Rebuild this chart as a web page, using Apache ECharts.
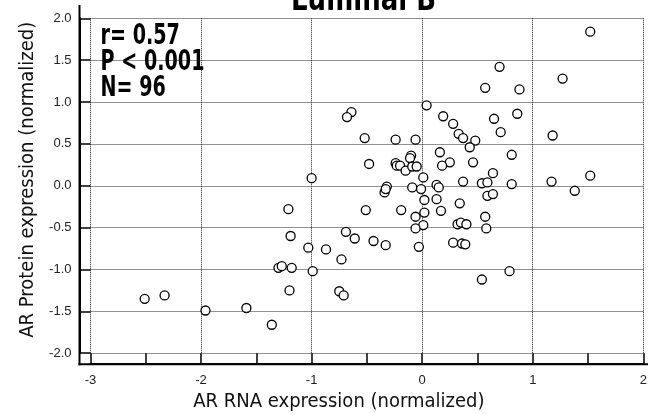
<!DOCTYPE html>
<html>
<head>
<meta charset="utf-8">
<script src="https://cdn.jsdelivr.net/npm/echarts@6/dist/echarts.min.js"></script>
<style>
html,body{margin:0;padding:0;background:#fff;}
#chart{width:648px;height:414px;}
</style>
</head>
<body>
<div id="chart"></div>
<script>
// AR RNA expression (x) and AR protein expression (y)
var rnaExpr = [
  -2.51,-2.33,-1.96,-1.59,-1.36,-1.30,-1.27,-1.18,-1.20,-1.21,
  -1.19,-1.00,-1.03,-0.99,-0.87,-0.73,-0.75,-0.71,-0.69,-0.61,
  -0.44,-0.33,-0.51,-0.48,-0.52,-0.64,-0.68,-0.24,-0.06,0.04,
  -0.10,-0.11,-0.24,-0.23,-0.20,-0.15,-0.09,-0.05,0.01,-0.32,
  -0.34,-0.33,-0.09,-0.01,-0.19,0.02,0.02,-0.06,0.01,-0.06,
  -0.03,0.13,0.15,0.13,0.17,0.34,0.32,0.35,0.40,0.28,
  0.36,0.39,0.59,0.64,0.57,0.58,0.79,0.54,0.37,0.54,
  0.59,0.81,1.17,1.38,1.52,1.52,0.70,1.27,0.57,0.88,
  0.86,0.65,0.71,1.18,0.19,0.28,0.33,0.37,0.48,0.43,
  0.16,0.81,0.25,0.18,0.46,0.64
];
var proteinExpr = [
  -1.35,-1.31,-1.49,-1.46,-1.66,-0.98,-0.96,-0.98,-1.25,-0.28,
  -0.60,0.09,-0.74,-1.02,-0.76,-0.88,-1.26,-1.31,-0.55,-0.63,
  -0.66,-0.71,-0.29,0.26,0.57,0.88,0.82,0.55,0.55,0.96,
  0.36,0.33,0.27,0.24,0.24,0.18,0.23,0.23,0.10,-0.01,
  -0.08,-0.04,-0.02,-0.04,-0.29,-0.17,-0.32,-0.37,-0.47,-0.51,
  -0.73,0.01,-0.02,-0.16,-0.30,-0.21,-0.46,-0.44,-0.46,-0.68,
  -0.69,-0.70,-0.12,-0.10,-0.37,-0.51,-1.02,-1.12,0.05,0.03,
  0.04,0.02,0.05,-0.06,0.12,1.84,1.42,1.28,1.17,1.15,
  0.86,0.80,0.64,0.60,0.83,0.74,0.62,0.57,0.54,0.46,
  0.40,0.37,0.28,0.24,0.28,0.15
];
var titleText = 'Luminal B';
var statsLines = ['r= 0.57', 'P < 0.001', 'N= 96'];
var xAxisName = 'AR RNA expression (normalized)';
var yAxisName = 'AR Protein expression (normalized)';

var narrow = '"DejaVu Sans Condensed", "Liberation Sans Narrow", "Liberation Sans", sans-serif';
var points = rnaExpr.map(function (v, i) { return [v, proteinExpr[i]]; });

var chart = echarts.init(document.getElementById('chart'), null, {renderer: 'canvas'});

var gridLeft = 90.5, gridTop = 18.3, gridRight = 4.7, gridBottom = 60.8;

var graphics = [
  {type: 'line', shape: {x1: 79.5, y1: 5, x2: 79.5, y2: 365.2}, style: {stroke: '#000', lineWidth: 2}, z: 10},
  {type: 'line', shape: {x1: 78.5, y1: 364.2, x2: 648, y2: 364.2}, style: {stroke: '#000', lineWidth: 2}, z: 10},
  {type: 'text', x: 363.5, y: 18, z: 10, scaleX: 0.85,
    style: {text: titleText, font: 'bold 34px ' + narrow, fill: '#000',
      align: 'center', verticalAlign: 'bottom', textAlign: 'center', textVerticalAlign: 'bottom'}}
];
var lineYs = [37, 62.5, 89];
statsLines.forEach(function (t, i) {
  graphics.push({type: 'text', x: 100.5, y: lineYs[i], z: 10, scaleX: 0.76,
    style: {text: t, font: 'bold 28px ' + narrow, fill: '#000',
      align: 'left', verticalAlign: 'middle', textAlign: 'left', textVerticalAlign: 'middle'}});
});

chart.setOption({
  animation: false,
  backgroundColor: '#fff',
  grid: {left: gridLeft, top: gridTop, right: gridRight, bottom: gridBottom,
    containLabel: false, outerBoundsMode: 'none'},
  xAxis: {
    type: 'value', min: -3, max: 2, interval: 1, offset: 11,
    name: xAxisName, nameLocation: 'middle', nameGap: 27,
    nameTextStyle: {fontFamily: narrow, fontSize: 20, color: '#111', padding: [0, 56, 0, 0]},
    axisLine: {show: true, onZero: false, lineStyle: {color: '#000', width: 2}},
    axisTick: {show: true, inside: true, length: 11, lineStyle: {color: '#000', width: 1.5}},
    minorTick: {show: true, splitNumber: 2, length: 11, lineStyle: {color: '#000', width: 1.5}},
    minorSplitLine: {show: false},
    axisLabel: {color: '#222', fontFamily: 'Liberation Sans, Arial, sans-serif', fontSize: 13, margin: 10},
    splitLine: {show: true, lineStyle: {color: '#222', width: 1, type: [1, 1]}}
  },
  yAxis: {
    type: 'value', min: -2, max: 2, interval: 0.5, offset: 11,
    name: yAxisName, nameLocation: 'middle', nameGap: 38,
    nameTextStyle: {fontFamily: narrow, fontSize: 20, color: '#111', padding: [0, 0, 0, 12]},
    axisLine: {show: true, onZero: false, lineStyle: {color: '#000', width: 2}},
    axisTick: {show: true, inside: true, length: 11, lineStyle: {color: '#000', width: 1.5}},
    axisLabel: {color: '#222', fontFamily: 'Liberation Sans, Arial, sans-serif', fontSize: 13, margin: 8,
      formatter: function (v) { return v.toFixed(1); }},
    splitLine: {show: true, lineStyle: {color: '#222', width: 1, type: [1, 1]}}
  },
  series: [{
    type: 'scatter',
    data: points,
    symbol: 'circle',
    symbolSize: 9,
    itemStyle: {color: '#fff', borderColor: '#000', borderWidth: 1.3, opacity: 1},
    z: 5
  }],
  graphic: graphics
});
</script>
</body>
</html>
